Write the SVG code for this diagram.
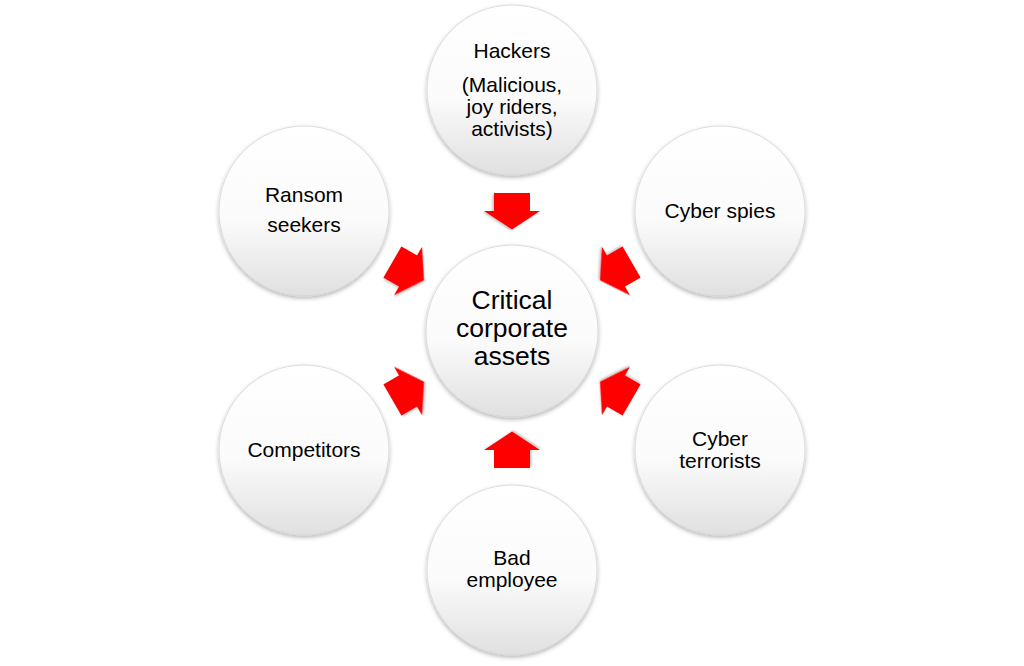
<svg xmlns="http://www.w3.org/2000/svg" width="1024" height="666" viewBox="0 0 1024 666">
<defs>
<linearGradient id="g" x1="0" y1="0" x2="0" y2="1">
<stop offset="0" stop-color="#ffffff"/>
<stop offset="0.55" stop-color="#fbfbfb"/>
<stop offset="1" stop-color="#e0e0e0"/>
</linearGradient>
<filter id="sh" x="-20%" y="-20%" width="140%" height="140%">
<feDropShadow dx="0" dy="2" stdDeviation="2" flood-color="#000" flood-opacity="0.3"/>
</filter>
<filter id="ash" x="-30%" y="-30%" width="160%" height="160%">
<feDropShadow dx="1" dy="1.5" stdDeviation="1.2" flood-color="#000" flood-opacity="0.25"/>
</filter>
<polygon id="arr" points="-18,-18 0,-18 0,-28 18.5,0 0,28 0,18 -18,18"/>
</defs>
<style>
.c{fill:url(#g);stroke:#d4d4d4;stroke-width:0.8;filter:url(#sh)}
.t{font-family:"Liberation Sans",Arial,sans-serif;font-size:21px;fill:#000;text-anchor:middle}
.tc{font-family:"Liberation Sans",Arial,sans-serif;font-size:26.5px;fill:#000;text-anchor:middle}
.a{fill:#ff0000;filter:url(#ash)}
</style>
<rect width="1024" height="666" fill="#fff"/>
<g id="connectors">
<use href="#arr" class="a" transform="translate(512,211) rotate(90)"/>
<use href="#arr" class="a" transform="translate(512,450) rotate(-90)"/>
<use href="#arr" class="a" transform="translate(408,271) rotate(30)"/>
<use href="#arr" class="a" transform="translate(616,271) rotate(150)"/>
<use href="#arr" class="a" transform="translate(408,391) rotate(-30)"/>
<use href="#arr" class="a" transform="translate(616,391) rotate(210)"/>
</g>
<g id="center">
<circle class="c" cx="512" cy="331" r="86"/>
<text class="tc" x="512" y="309">Critical</text>
<text class="tc" x="512" y="337">corporate</text>
<text class="tc" x="512" y="365">assets</text>
</g>
<g id="hackers">
<circle class="c" cx="512" cy="90" r="85"/>
<text class="t" x="512" y="58">Hackers</text>
<text class="t" x="512" y="92">(Malicious,</text>
<text class="t" x="512" y="114">joy riders,</text>
<text class="t" x="512" y="136">activists)</text>
</g>
<g id="ransom">
<circle class="c" cx="304" cy="211" r="85"/>
<text class="t" x="304" y="202">Ransom</text>
<text class="t" x="304" y="232">seekers</text>
</g>
<g id="spies">
<circle class="c" cx="720" cy="211" r="85"/>
<text class="t" x="720" y="218">Cyber spies</text>
</g>
<g id="competitors">
<circle class="c" cx="304" cy="450" r="85"/>
<text class="t" x="304" y="457">Competitors</text>
</g>
<g id="terrorists">
<circle class="c" cx="720" cy="450" r="85"/>
<text class="t" x="720" y="446">Cyber</text>
<text class="t" x="720" y="468">terrorists</text>
</g>
<g id="employee">
<circle class="c" cx="512" cy="570" r="85"/>
<text class="t" x="512" y="565">Bad</text>
<text class="t" x="512" y="587">employee</text>
</g>
</svg>
